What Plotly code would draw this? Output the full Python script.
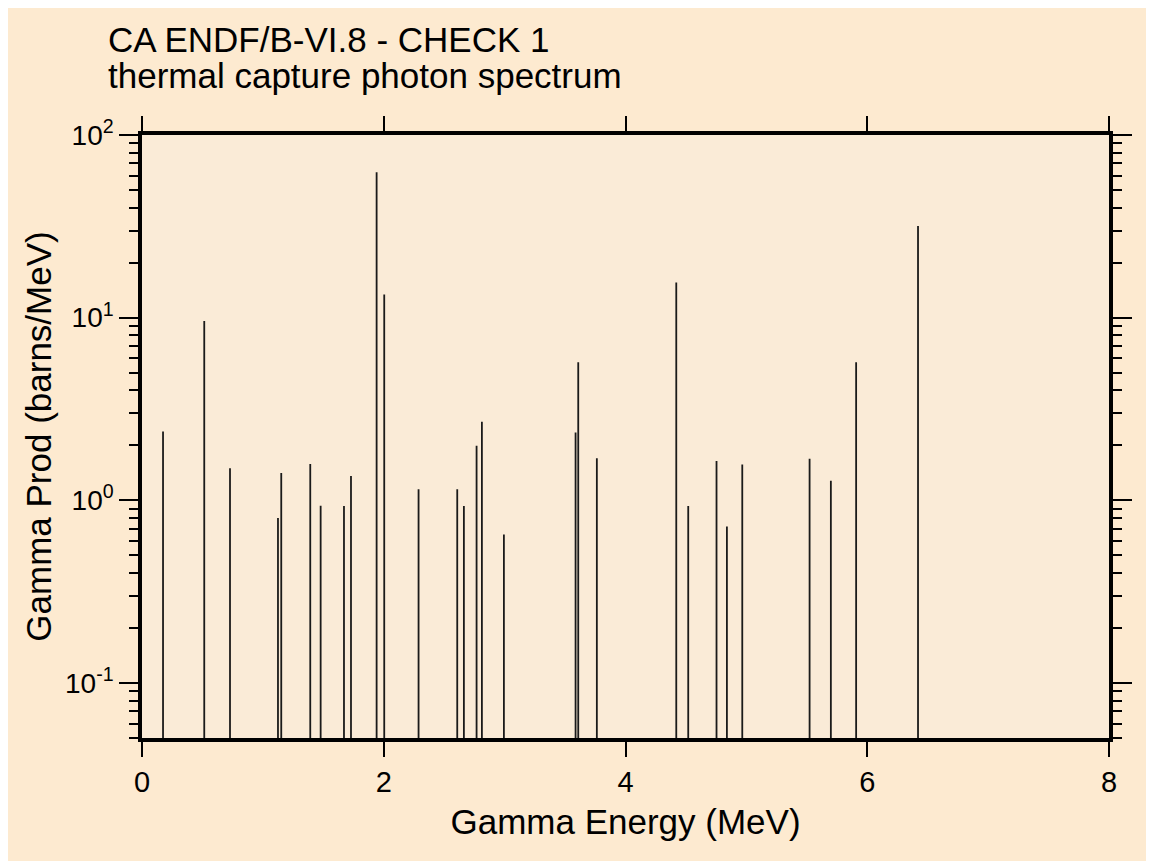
import plotly.graph_objects as go

# Gamma line energies (MeV) and peak heights (barns/MeV)
energies = [0.174, 0.515, 0.728, 1.125, 1.152, 1.392, 1.478, 1.671, 1.729,
            1.941, 2.004, 2.288, 2.608, 2.663, 2.768, 2.812, 2.994,
            3.587, 3.609, 3.763, 4.420, 4.519, 4.753, 4.839, 4.966,
            5.523, 5.699, 5.908, 6.420]
peaks = [2.38, 9.6, 1.50, 0.80, 1.41, 1.58, 0.935, 0.93, 1.36,
         62.5, 13.4, 1.15, 1.15, 0.93, 1.99, 2.69, 0.65,
         2.35, 5.70, 1.70, 15.6, 0.93, 1.64, 0.72, 1.57,
         1.69, 1.28, 5.70, 31.8]
baseline = 1e-3

x_ticks = [0, 2, 4, 6, 8]
y_tickvals = [0.1, 1, 10, 100]
y_ticktext = ["10<sup>-1</sup>", "10<sup>0</sup>", "10<sup>1</sup>", "10<sup>2</sup>"]
title_lines = ["CA ENDF/B-VI.8 - CHECK 1", "thermal capture photon spectrum"]

xs, ys = [], []
for e, p in zip(energies, peaks):
    xs += [e, e, None]
    ys += [baseline, p, None]

fig = go.Figure()
fig.add_trace(go.Scatter(x=xs, y=ys, mode="lines",
                         line=dict(color="#1a1a1a", width=1.8),
                         showlegend=False, hoverinfo="skip"))

FONT = "Liberation Sans, Arial, Helvetica, sans-serif"
W, H = 1140, 853
L, R, T, B = 134, 39, 127, 123
pw, ph = W - L - R, H - T - B
OX, OY = 7, 9  # page offset of the figure


def px_to_paper_x(xs_):
    return (xs_ - OX - L) / pw


def px_to_paper_y(ys_):
    return (H - B - (ys_ - OY)) / ph


fig.update_layout(
    width=W, height=H,
    margin=dict(l=L, r=R, t=T, b=B),
    paper_bgcolor="#FDEAD0",
    plot_bgcolor="#FAEBD7",
    font=dict(family=FONT, color="black"),
    annotations=[
        dict(text=title_lines[0], xref="paper", yref="paper",
             x=px_to_paper_x(105), y=px_to_paper_y(40),
             xanchor="left", yanchor="middle", showarrow=False,
             font=dict(size=35, family=FONT, color="black")),
        dict(text=title_lines[1], xref="paper", yref="paper",
             x=px_to_paper_x(105), y=px_to_paper_y(77),
             xanchor="left", yanchor="middle", showarrow=False,
             font=dict(size=35, family=FONT, color="black")),
    ],
)

fig.update_xaxes(
    range=[0, 8], tickvals=x_ticks, ticktext=[str(v) for v in x_ticks],
    showgrid=False, zeroline=False,
    showline=True, linecolor="black", linewidth=3.5, mirror="ticks",
    ticks="outside", ticklen=15, tickwidth=2, tickcolor="black",
    tickfont=dict(size=29, family=FONT, color="black"),
    title=dict(text="Gamma Energy (MeV)", font=dict(size=35, family=FONT, color="black"),
               standoff=14),
)
fig.update_yaxes(
    type="log", range=[-1.30103, 2],
    tickvals=y_tickvals, ticktext=y_ticktext,
    showgrid=False, zeroline=False,
    showline=True, linecolor="black", linewidth=3.5, mirror="ticks",
    ticks="outside", ticklen=19, tickwidth=2, tickcolor="black",
    tickfont=dict(size=28, family=FONT, color="black"),
    minor=dict(ticks="outside", ticklen=9, tickwidth=2, tickcolor="black",
               dtick="D1", showgrid=False),
    title=dict(text="Gamma Prod (barns/MeV)", font=dict(size=35, family=FONT, color="black"),
               standoff=4),
)

fig.write_html("out.html")
